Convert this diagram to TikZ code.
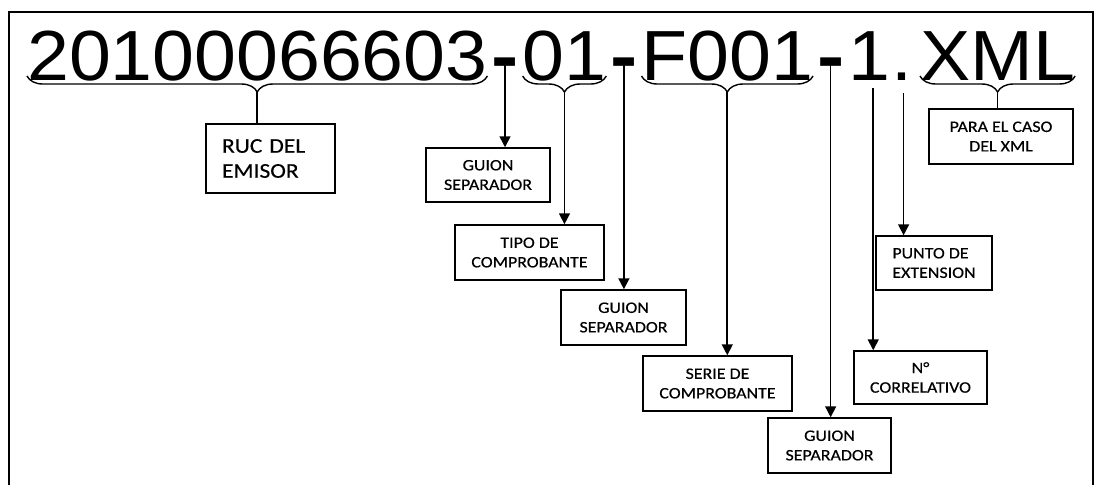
\documentclass[tikz,border=0pt]{standalone}
\usepackage{fontspec}
\usetikzlibrary{positioning,arrows.meta,calc,decorations.pathreplacing}
\newfontfamily\bigfont[FakeStretch=1.06]{Liberation Sans}
\newfontfamily\dashfont[FakeStretch=1.15]{Liberation Sans Bold}
\newfontfamily\boxfont[FakeStretch=1.12,FakeBold=0.4]{Carlito}
\newcommand\bigtxt{\bigfont\fontsize{71}{80}\selectfont}
\newcommand\dashgap{\hspace{4pt}{\dashfont\fontsize{71}{80}\selectfont-}\hspace{4pt}}
% pieces of the file name
\newcommand\segA{20100066603}
\newcommand\segB{\segA\dashgap 01}
\newcommand\segC{\segB\dashgap F001}
\newcommand\segD{\segC\dashgap 1\hspace{1pt}.\hspace{8pt}}
% widths of the pieces, taken before the picture
\newlength\cutA \newlength\cutB \newlength\cutC \newlength\cutD
\newlength\cutE \newlength\cutF \newlength\cutG \newlength\cutH
\newcommand\takewidth[2]{\settowidth{#1}{\bigtxt #2}\global#1=#1\relax}
\AtBeginDocument{%
  \takewidth\cutA{\segA}%
  \takewidth\cutB{\segA\dashgap}%
  \takewidth\cutC{\segB}%
  \takewidth\cutD{\segB\dashgap}%
  \takewidth\cutE{\segC}%
  \takewidth\cutF{\segC\dashgap}%
  \takewidth\cutG{\segC\dashgap 1\hspace{1pt}}%
  \takewidth\cutH{\segD}}
\tikzset{
  part/.style={anchor=base west, inner sep=0pt, font=\bigtxt},
  lbox/.style={draw, line width=1.5pt, align=center, inner sep=2pt,
               font=\boxfont\fontsize{16}{19.5}\selectfont},
  rucbox/.style={lbox, align=left, inner xsep=16pt, text width=97pt,
                 font=\boxfont\fontsize{21}{25}\selectfont},
  brc/.style={decorate, decoration={brace, mirror, amplitude=16pt}, line width=1.4pt},
  feed/.style={line width=1.6pt},
  arr/.style={-{Triangle[width=11pt,length=11pt]}, line width=1.6pt}
}

\begin{document}
\begin{tikzpicture}[x=1pt,y=-1pt]
    \useasboundingbox (0,0) rectangle (1097,485);
    \fill[white] (0,0) rectangle (1097,485);
    \draw[line width=2pt] (9,485) -- (9,12) -- (1093,12) -- (1093,485);

    % file name
    \node[part] (fname) at (27,80) {\segD XML};
    \coordinate (a0) at (fname.base west);
    \coordinate (a1) at ([xshift=\cutA]fname.base west);
    \coordinate (a2) at ([xshift=\cutB]fname.base west);
    \coordinate (a3) at ([xshift=\cutC]fname.base west);
    \coordinate (a4) at ([xshift=\cutD]fname.base west);
    \coordinate (a5) at ([xshift=\cutE]fname.base west);
    \coordinate (a6) at ([xshift=\cutF]fname.base west);
    \coordinate (a7) at ([xshift=\cutG]fname.base west);
    \coordinate (a8) at ([xshift=\cutH]fname.base west);
    \coordinate (a9) at (fname.base east);

    % boxes
    \node[rucbox, minimum height=69pt] (ruc) at (270.5,158.5) {RUC DEL\\EMISOR};
    \node[lbox, minimum width=124pt, minimum height=54pt] (g1) at (488,175) {GUION\\SEPARADOR};
    \node[lbox, minimum width=149pt, minimum height=55pt] (tipo) at (529.5,252.5) {TIPO DE\\COMPROBANTE};
    \node[lbox, minimum width=125pt, minimum height=55pt] (g2) at (623.5,317.5) {GUION\\SEPARADOR};
    \node[lbox, minimum width=149pt, minimum height=55pt] (serie) at (717.5,383.5) {SERIE DE\\COMPROBANTE};
    \node[lbox, minimum width=123pt, minimum height=55pt] (g3) at (829.5,445.5) {GUION\\SEPARADOR};
    \node[lbox, minimum width=133pt, minimum height=53pt] (num) at (920.5,377.5) {N°\\CORRELATIVO};
    \node[lbox, align=left, minimum width=116pt, minimum height=54pt] (punto) at (934,263) {PUNTO DE\\EXTENSION};
    \node[lbox, minimum width=144pt, minimum height=55pt] (para) at (1001,136.5) {PARA EL CASO\\DEL XML};

    % braces under the groups
    \draw[brc] ([yshift=4pt]a0) -- ([yshift=4pt]a1);
    \draw[brc] ([yshift=4pt]a2) -- ([yshift=4pt]a3);
    \draw[brc] ([yshift=4pt]a4) -- ([yshift=4pt]a5);
    \draw[brc] ([yshift=4pt]a8) -- ([yshift=4pt]a9);
    \coordinate (t1) at ($(a0)!.5!(a1)+(0,12)$);
    \coordinate (t2) at ($(a2)!.5!(a3)+(0,12)$);
    \coordinate (t3) at ($(a4)!.5!(a5)+(0,12)$);
    \coordinate (t5) at ($(a8)!.5!(a9)+(0,12)$);
    % hyphens, the 1 and the dot
    \coordinate (d1) at ($(a1)!.5!(a2)+(0,-18)$);
    \coordinate (d2) at ($(a3)!.5!(a4)+(0,-18)$);
    \coordinate (d3) at ($(a5)!.5!(a6)+(0,-18)$);
    \coordinate (u1) at ($(a6)+(25,8)$);
    \coordinate (u2) at ($(a7)+(12.5,13)$);

    \draw[feed] (t1) -- (t1 |- ruc.north);
    \draw[feed] (t5) -- (t5 |- para.north);
    \draw[arr] (d1) -- (d1 |- g1.north);
    \draw[arr] (t2) -- (t2 |- tipo.north);
    \draw[arr] (d2) -- (d2 |- g2.north);
    \draw[arr] (t3) -- (t3 |- serie.north);
    \draw[arr] (d3) -- (d3 |- g3.north);
    \draw[arr] (u1) -- (u1 |- num.north);
    \draw[arr] (u2) -- (u2 |- punto.north);
  \end{tikzpicture}
\end{document}
